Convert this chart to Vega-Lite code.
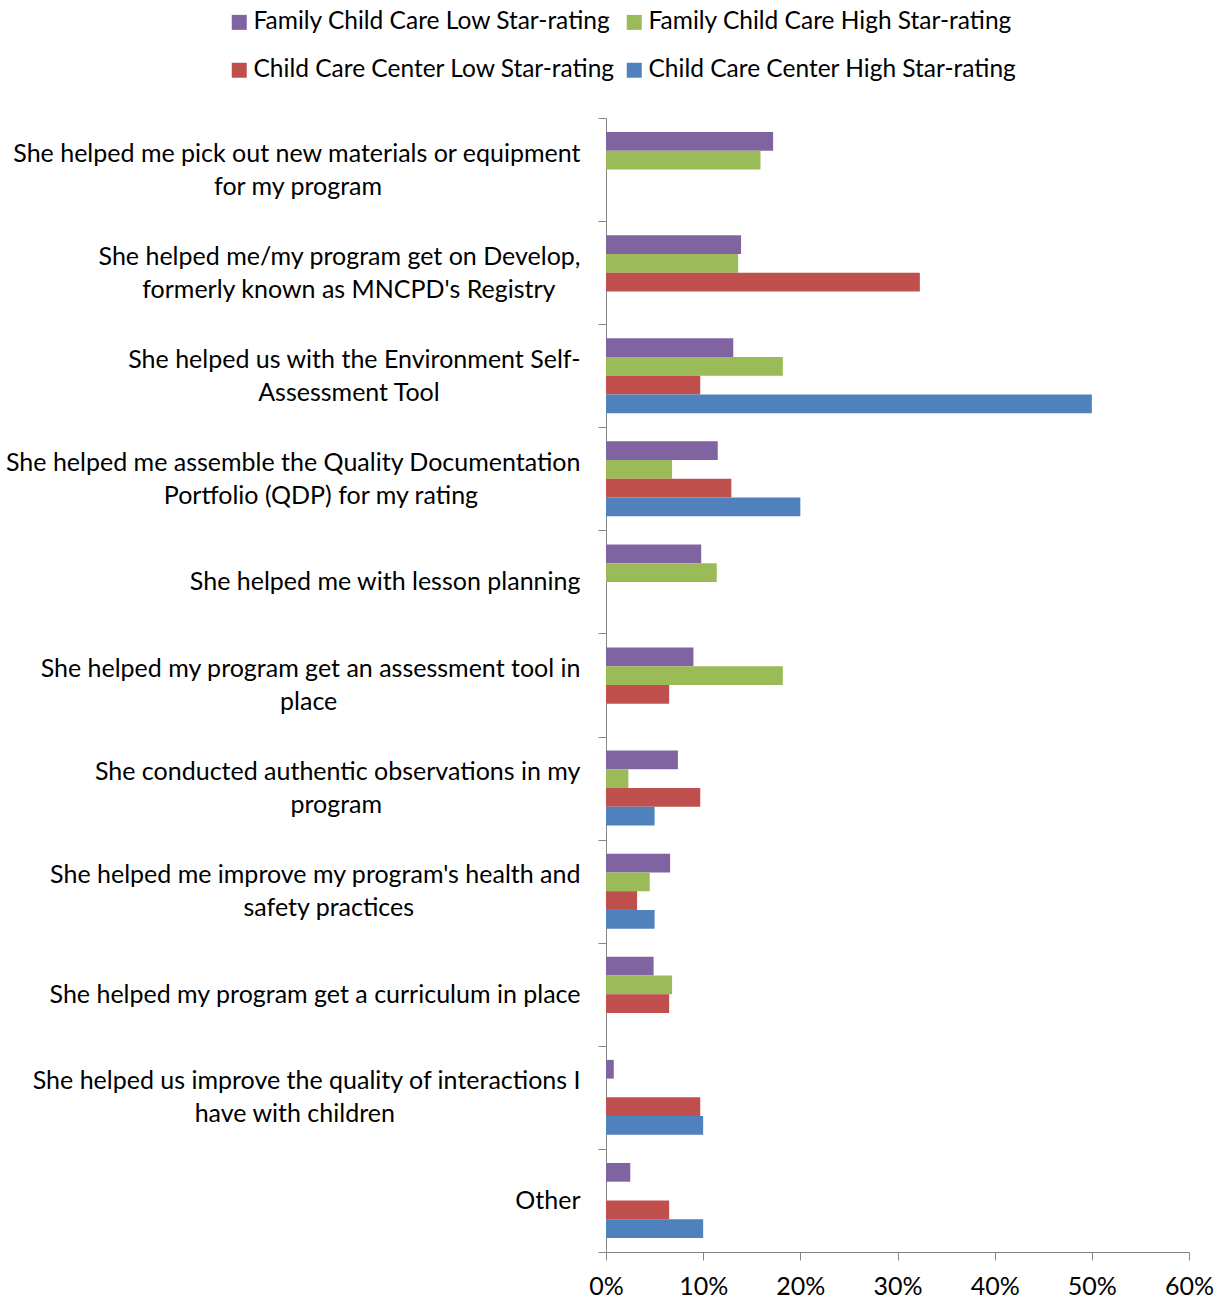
{
  "$schema": "https://vega.github.io/schema/vega-lite/v6.json",
  "autosize": "none",
  "width": 583,
  "height": 1134,
  "padding": {"left": 606, "top": 118, "right": 31, "bottom": 47},
  "background": "white",
  "config": {
    "font": "Lato",
    "view": {"stroke": null},
    "axis": {"domainColor": "#868686", "tickColor": "#868686", "labelColor": "#000000", "grid": false, "labelFont": "Lato", "labelFontSize": 25}
  },
  "data": {
    "values": [
      {"cat": "She helped me pick out new materials or equipment|for my program", "group": "Family Child Care Low Star-rating", "value": 0.172},
      {"cat": "She helped me pick out new materials or equipment|for my program", "group": "Family Child Care High Star-rating", "value": 0.159},
      {"cat": "She helped me/my program get on Develop,|formerly known as MNCPD's Registry", "group": "Family Child Care Low Star-rating", "value": 0.139},
      {"cat": "She helped me/my program get on Develop,|formerly known as MNCPD's Registry", "group": "Family Child Care High Star-rating", "value": 0.136},
      {"cat": "She helped me/my program get on Develop,|formerly known as MNCPD's Registry", "group": "Child Care Center Low Star-rating", "value": 0.323},
      {"cat": "She helped us with the Environment Self-|Assessment Tool", "group": "Family Child Care Low Star-rating", "value": 0.131},
      {"cat": "She helped us with the Environment Self-|Assessment Tool", "group": "Family Child Care High Star-rating", "value": 0.182},
      {"cat": "She helped us with the Environment Self-|Assessment Tool", "group": "Child Care Center Low Star-rating", "value": 0.097},
      {"cat": "She helped us with the Environment Self-|Assessment Tool", "group": "Child Care Center High Star-rating", "value": 0.5},
      {"cat": "She helped me assemble the Quality Documentation|Portfolio (QDP) for my rating", "group": "Family Child Care Low Star-rating", "value": 0.115},
      {"cat": "She helped me assemble the Quality Documentation|Portfolio (QDP) for my rating", "group": "Family Child Care High Star-rating", "value": 0.068},
      {"cat": "She helped me assemble the Quality Documentation|Portfolio (QDP) for my rating", "group": "Child Care Center Low Star-rating", "value": 0.129},
      {"cat": "She helped me assemble the Quality Documentation|Portfolio (QDP) for my rating", "group": "Child Care Center High Star-rating", "value": 0.2},
      {"cat": "She helped me with lesson planning", "group": "Family Child Care Low Star-rating", "value": 0.098},
      {"cat": "She helped me with lesson planning", "group": "Family Child Care High Star-rating", "value": 0.114},
      {"cat": "She helped my program get an assessment tool in|place", "group": "Family Child Care Low Star-rating", "value": 0.09},
      {"cat": "She helped my program get an assessment tool in|place", "group": "Family Child Care High Star-rating", "value": 0.182},
      {"cat": "She helped my program get an assessment tool in|place", "group": "Child Care Center Low Star-rating", "value": 0.065},
      {"cat": "She conducted authentic observations in my|program", "group": "Family Child Care Low Star-rating", "value": 0.074},
      {"cat": "She conducted authentic observations in my|program", "group": "Family Child Care High Star-rating", "value": 0.023},
      {"cat": "She conducted authentic observations in my|program", "group": "Child Care Center Low Star-rating", "value": 0.097},
      {"cat": "She conducted authentic observations in my|program", "group": "Child Care Center High Star-rating", "value": 0.05},
      {"cat": "She helped me improve my program's health and|safety practices", "group": "Family Child Care Low Star-rating", "value": 0.066},
      {"cat": "She helped me improve my program's health and|safety practices", "group": "Family Child Care High Star-rating", "value": 0.045},
      {"cat": "She helped me improve my program's health and|safety practices", "group": "Child Care Center Low Star-rating", "value": 0.032},
      {"cat": "She helped me improve my program's health and|safety practices", "group": "Child Care Center High Star-rating", "value": 0.05},
      {"cat": "She helped my program get a curriculum in place", "group": "Family Child Care Low Star-rating", "value": 0.049},
      {"cat": "She helped my program get a curriculum in place", "group": "Family Child Care High Star-rating", "value": 0.068},
      {"cat": "She helped my program get a curriculum in place", "group": "Child Care Center Low Star-rating", "value": 0.065},
      {"cat": "She helped us improve the quality of interactions I|have with children", "group": "Family Child Care Low Star-rating", "value": 0.008},
      {"cat": "She helped us improve the quality of interactions I|have with children", "group": "Child Care Center Low Star-rating", "value": 0.097},
      {"cat": "She helped us improve the quality of interactions I|have with children", "group": "Child Care Center High Star-rating", "value": 0.1},
      {"cat": "Other", "group": "Family Child Care Low Star-rating", "value": 0.025},
      {"cat": "Other", "group": "Child Care Center Low Star-rating", "value": 0.065},
      {"cat": "Other", "group": "Child Care Center High Star-rating", "value": 0.1}
    ]
  },
  "mark": {"type": "bar"},
  "encoding": {
    "y": {
      "field": "cat",
      "type": "nominal",
      "sort": null,
      "scale": {"paddingInner": 0, "paddingOuter": 0},
      "axis": {
        "title": null,
        "tickBand": "extent",
        "tickSize": 8,
        "labelPadding": 18,
        "labelLimit": 0,
        "labelAlign": "right",
        "labelBaseline": "middle",
        "labelLineHeight": 16.5,
        "labelOffset": -16.5,
        "labelExpr": "length(split(datum.value,'|'))>1 ? [split(datum.value,'|')[0], '\u200b', pad(split(datum.value,'|')[1], length(split(datum.value,'|')[1]) + round((length(split(datum.value,'|')[0]) - length(split(datum.value,'|')[1]))*0.92 - 1.1), '\u00a0') + '\u200b'] : ['\u200b', datum.value]"
      }
    },
    "yOffset": {
      "field": "group",
      "type": "nominal",
      "scale": {
        "domain": ["Family Child Care Low Star-rating", "Family Child Care High Star-rating", "Child Care Center Low Star-rating", "Child Care Center High Star-rating"],
        "paddingInner": 0,
        "paddingOuter": 0.75
      }
    },
    "x": {
      "field": "value",
      "type": "quantitative",
      "scale": {"domain": [0, 0.6], "nice": false},
      "axis": {
        "title": null,
        "format": ".0%",
        "values": [0, 0.1, 0.2, 0.3, 0.4, 0.5, 0.6],
        "tickSize": 8,
        "labelPadding": 14,
        "labelFlush": false
      }
    },
    "color": {
      "field": "group",
      "type": "nominal",
      "scale": {
        "domain": ["Family Child Care Low Star-rating", "Family Child Care High Star-rating", "Child Care Center Low Star-rating", "Child Care Center High Star-rating"],
        "range": ["#8064A2", "#9BBB59", "#C0504D", "#4F81BD"]
      },
      "legend": {
        "title": null,
        "orient": "none",
        "legendX": -379,
        "legendY": -108,
        "padding": 0,
        "direction": "horizontal",
        "columns": 2,
        "symbolType": "square",
        "symbolSize": 225,
        "symbolStrokeWidth": 0,
        "labelFontSize": 24.5,
        "labelFont": "Lato",
        "labelColor": "#000000",
        "labelLimit": 0,
        "labelOffset": 2,
        "rowPadding": 23,
        "columnPadding": 6
      }
    }
  }
}
